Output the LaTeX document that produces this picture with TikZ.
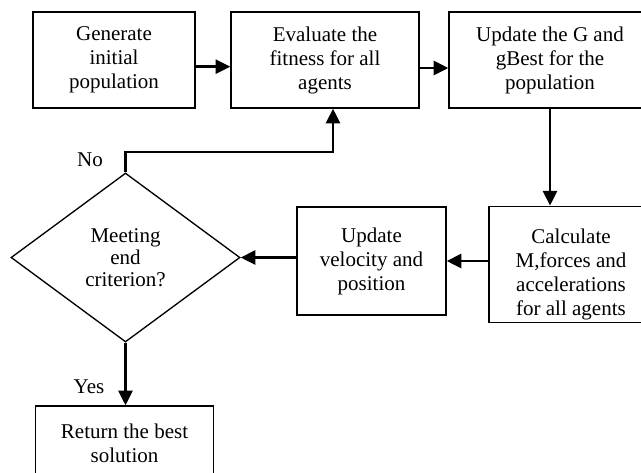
\documentclass[tikz,border=0pt]{standalone}
\usepackage{fontspec}
\setmainfont{Liberation Serif}
\usetikzlibrary{arrows.meta, positioning, shapes.geometric}

\tikzset{
  box/.style={draw, line width=1pt, align=center, inner sep=2pt,
    font=\fontsize{15.75}{18}\selectfont},
  decision/.style={draw, diamond, line width=1pt, align=center, inner sep=0pt,
    font=\fontsize{15.75}{16.5}\selectfont},
  flow/.style={line width=1.8pt, -{Triangle[length=11pt,width=10.5pt]}},
  lbl/.style={font=\fontsize{15.75}{18}\selectfont}
}

\begin{document}
\begin{tikzpicture}[x=0.75pt, y=-0.75pt]
  \useasboundingbox (0,0) rectangle (641,472);
  \clip (0,0) rectangle (641,472);
  % Top row
  \node[box, minimum width=121.5pt, minimum height=72pt] (gen) at (114,60) {Generate\\initial\\population};
  \node[box, minimum width=141pt, minimum height=72pt] (eval) at (325,60) {Evaluate the\\fitness for all\\agents};
  \node[box, minimum width=151.5pt, minimum height=72pt] (upd) at (550,60) {Update the G and\\gBest for the\\population};
  % Middle row
  \node[box, minimum width=123pt, minimum height=86.25pt] (calc) at (571,264.5) {\rule{0pt}{26pt}Calculate\\M,forces and\\accelerations\\for all agents};
  \node[box, minimum width=111.75pt, minimum height=81pt] (vel) at (371.5,261) {Update\\velocity and\\position};
  \node[decision, minimum width=171.75pt, minimum height=126.75pt] (dec) at (125.5,257.5) {Meeting\\end\\criterion?};
  % Bottom
  \node[box, minimum width=133.5pt, minimum height=55.5pt] (ret) at (124.5,443) {Return the best\\solution};
  \coordinate (noturn) at (333,152);
  % Connectors
  \draw[flow] ([yshift=-5pt]gen.east) -- ([yshift=-5pt]eval.west);
  \draw[flow] ([yshift=-6pt]eval.east) -- ([yshift=-6pt]upd.west);
  \draw[flow] (upd.south) -- (upd.south |- calc.north);
  \draw[flow] (calc.west |- vel.east) -- (vel.east);
  \draw[flow] (vel.west |- dec.east) -- (dec.east);
  \draw[flow] (dec.north) |- (noturn) -- (noturn |- eval.south);
  \draw[flow] (dec.south) -- (dec.south |- ret.north);
  \node[lbl] (no) at (90,160) {No};
  \node[lbl] (yes) at (89,387) {Yes};
\end{tikzpicture}
\end{document}
